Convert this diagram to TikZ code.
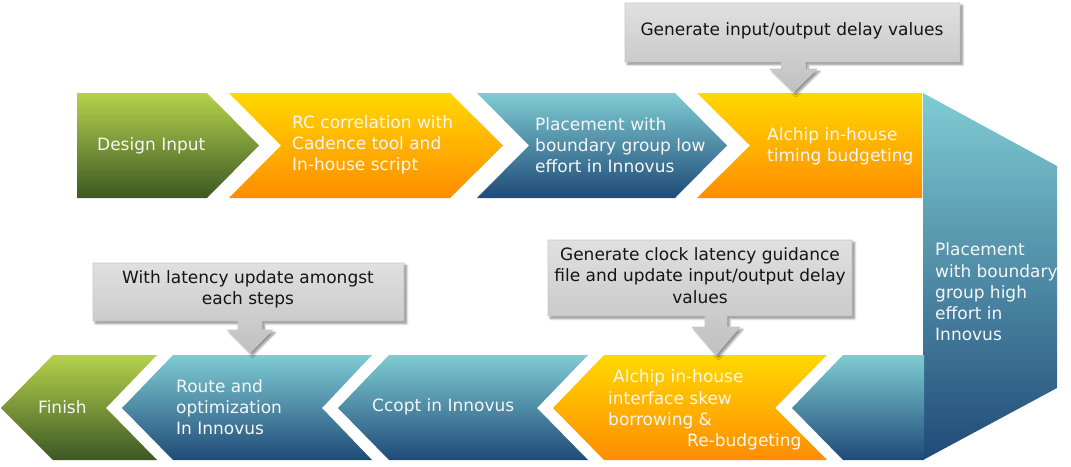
\documentclass[tikz,border=0pt]{standalone}
\usepackage{fontspec}
\setmainfont{DejaVu Sans}
\usetikzlibrary{shadows.blur}
\definecolor{gtop}{RGB}{182,210,76}
\definecolor{gbot}{RGB}{60,88,36}
\definecolor{ytop}{RGB}{255,216,0}
\definecolor{ybot}{RGB}{255,140,0}
\definecolor{btop}{RGB}{127,204,211}
\definecolor{bbot}{RGB}{31,74,120}
\definecolor{ctop}{RGB}{224,224,224}
\definecolor{cbot}{RGB}{192,192,192}
\definecolor{txtw}{RGB}{246,246,246}
\definecolor{txtk}{RGB}{20,20,20}
\begin{document}
\begin{tikzpicture}[x=1pt,y=-1pt,
  greenfill/.style={top color=gtop,bottom color=gbot},
  yellowfill/.style={top color=ytop,bottom color=ybot},
  bluefill/.style={top color=btop,bottom color=bbot},
  steptext/.style={text=txtw,font=\fontsize{17}{21.3}\selectfont,align=left,anchor=west,inner sep=0pt},
  calltext/.style={text=txtk,font=\fontsize{17}{21.3}\selectfont,align=center,inner sep=0pt},
  callout/.style={top color=ctop,bottom color=cbot,draw=gray!45,line width=0.6pt,
    blur shadow={shadow xshift=2.5pt,shadow yshift=-2.5pt,shadow blur steps=6,shadow opacity=45}}]
\useasboundingbox (0,0) rectangle (1071,466);
% top row
\shade[greenfill] (77,93) -- (207,93) -- (259,145.5) -- (207,198) -- (77,198) -- cycle;
\shade[yellowfill] (229,93) -- (450,93) -- (503,145.5) -- (450,198) -- (229,198) -- (281,145.5) -- cycle;
\shade[bluefill] (477,93) -- (675,93) -- (727,145.5) -- (675,198) -- (477,198) -- (529,145.5) -- cycle;
\shade[yellowfill] (697,93) -- (922,93) -- (922,198) -- (697,198) -- (750,145.5) -- cycle;
% vertical turn
\shade[bluefill] (923,93) -- (1057,166) -- (1057,388) -- (923,460) -- cycle;
% bottom row
\shade[greenfill] (1,408) -- (53,355) -- (157,355) -- (106,408) -- (157,460) -- (53,460) -- cycle;
\shade[bluefill] (122,408) -- (173,355) -- (372,355) -- (322,408) -- (372,460) -- (173,460) -- cycle;
\shade[bluefill] (338,408) -- (389,355) -- (588,355) -- (537,408) -- (588,460) -- (389,460) -- cycle;
\shade[yellowfill] (553,408) -- (604,355) -- (827,355) -- (775,408) -- (827,460) -- (604,460) -- cycle;
\shade[bluefill] (792,408) -- (843,355) -- (924,355) -- (924,460) -- (843,460) -- cycle;
% callouts
\shade[callout] (625,3) -- (960,3) -- (960,62) -- (805.5,62) -- (805.5,69) -- (817,69) -- (793.5,92)
  -- (770,69) -- (781.5,69) -- (781.5,62) -- (625,62) -- cycle;
\shade[callout] (93,263) -- (404,263) -- (404,321) -- (262,321) -- (262,330) -- (272.5,330) -- (250,353)
  -- (227.5,330) -- (238,330) -- (238,321) -- (93,321) -- cycle;
\shade[callout] (548,240) -- (852,240) -- (852,316) -- (727,316) -- (727,327) -- (740,327) -- (716,355)
  -- (692,327) -- (705,327) -- (705,316) -- (548,316) -- cycle;
% texts
\node[steptext] (di) at (97,145.5) {Design Input};
\node[steptext] (rc) at (292,145) {RC correlation with\\Cadence tool and\\In-house script};
\node[steptext] (pl) at (535,145) {Placement with\\boundary group low\\effort in Innovus};
\node[steptext] (at) at (767,146) {Alchip in-house\\timing budgeting};
\node[steptext] (ph) at (935,292) {Placement\\with boundary\\group high\\effort in\\Innovus};
\node[steptext] (fi) at (38,407) {Finish};
\node[steptext] (ro) at (176,407) {Route and\\optimization\\In Innovus};
\node[steptext] (cc) at (372,407) {Ccopt in Innovus};
\node[steptext] (ai) at (608,410) {\hspace*{5pt}Alchip in-house\\interface skew\\borrowing \&\\\hspace*{79pt}Re-budgeting};
\node[calltext] (c1) at (792,31) {Generate input/output delay values};
\node[calltext] (c2) at (248,289.5) {With latency update amongst\\each steps};
\node[calltext] (c3) at (700,275.5) {Generate clock latency guidance\\file and update input/output delay\\values};
\end{tikzpicture}
\end{document}
